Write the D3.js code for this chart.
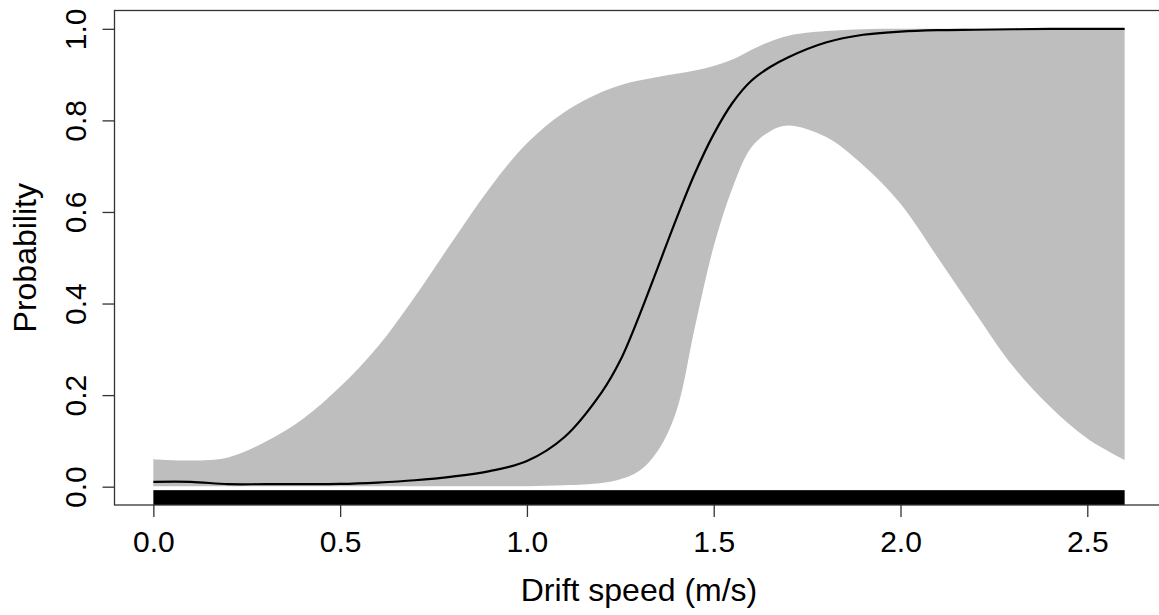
<!DOCTYPE html>
<html lang="en">
<head>
    <meta charset="UTF-8">
    <script src="https://d3js.org/d3.v7.min.js"></script>
    <style>
        body {
            margin: 0;
            background: #fff;
            overflow: hidden;
            font-family: "Liberation Sans", Arial, sans-serif;
        }
        .tick text {
            font-size: 30px;
            fill: #000;
        }
        .title {
            font-size: 32px;
            fill: #000;
            text-anchor: middle;
        }
    </style>
</head>
<body>
    <svg id="chart"></svg>

    <script>
        // drift speed grid (m/s) and fitted probability with its interval
        const speed = [0, 0.1, 0.2, 0.3, 0.4, 0.5, 0.6, 0.7, 0.8, 0.9, 1.0, 1.1, 1.2, 1.25, 1.3, 1.35,
                       1.4, 1.45, 1.5, 1.55, 1.6, 1.65, 1.7, 1.8, 1.9, 2.0, 2.1, 2.2, 2.3, 2.4, 2.5, 2.6];
        const probMean = [0.0105, 0.0105, 0.0055, 0.0055, 0.0055, 0.006, 0.009, 0.014, 0.022, 0.034, 0.056,
                          0.108, 0.206, 0.276, 0.372, 0.478, 0.585, 0.685, 0.770, 0.838, 0.886, 0.916, 0.938,
                          0.970, 0.987, 0.994, 0.997, 0.998, 0.999, 1.0, 1.0, 1.0];
        const probUpper = [0.060, 0.057, 0.064, 0.098, 0.148, 0.218, 0.305, 0.415, 0.535, 0.652, 0.750,
                           0.818, 0.862, 0.877, 0.887, 0.895, 0.902, 0.909, 0.919, 0.933, 0.954, 0.972, 0.985,
                           0.995, 0.999, 1.0, 1.0, 1.0, 1.0, 1.0, 1.0, 1.0];
        const probLower = [0.001, 0.001, 0.001, 0.001, 0.001, 0.001, 0.001, 0.001, 0.001, 0.001, 0.001,
                           0.003, 0.008, 0.016, 0.034, 0.078, 0.165, 0.350, 0.525, 0.652, 0.740, 0.776, 0.789,
                           0.764, 0.702, 0.618, 0.500, 0.380, 0.264, 0.175, 0.105, 0.058];
        const rugRange = [0, 2.6];
        const xTicks = [0, 0.5, 1.0, 1.5, 2.0, 2.5];
        const yTicks = [0, 0.2, 0.4, 0.6, 0.8, 1.0];

        const width = 1159, height = 615;
        const box = { left: 114.5, right: 1163.5, top: 10.5, bottom: 505 };

        const svg = d3.select("#chart").attr("width", width).attr("height", height);

        // R style 4% padding round the data range
        const x = d3.scaleLinear().domain([-0.104, 2.704]).range([box.left, box.right]);
        const y = d3.scaleLinear().domain([-0.04, 1.04]).range([box.bottom, box.top]);

        const rows = speed.map((s, i) => ({ s, m: probMean[i], lo: probLower[i], hi: probUpper[i] }));
        const smooth = d3.curveCatmullRom.alpha(0.5);

        svg.append("path")
            .datum(rows)
            .attr("fill", "#bebebe")
            .attr("d", d3.area()
                .x(d => x(d.s))
                .y0(d => y(d.lo))
                .y1(d => y(d.hi))
                .curve(smooth));

        svg.append("path")
            .datum(rows)
            .attr("fill", "none")
            .attr("stroke", "#000")
            .attr("stroke-width", 2.2)
            .attr("d", d3.line()
                .x(d => x(d.s))
                .y(d => y(d.m))
                .curve(smooth));

        // rug is so dense it reads as a solid bar (3% of plot height)
        const rugLen = (box.bottom - box.top) * 0.03;
        svg.append("rect")
            .attr("x", x(rugRange[0]))
            .attr("y", box.bottom - rugLen)
            .attr("width", x(rugRange[1]) - x(rugRange[0]))
            .attr("height", rugLen)
            .attr("fill", "#000");

        svg.append("rect")
            .attr("x", box.left)
            .attr("y", box.top)
            .attr("width", box.right - box.left)
            .attr("height", box.bottom - box.top)
            .attr("fill", "none")
            .attr("stroke", "#333")
            .attr("stroke-width", 1.3);

        const xAxis = svg.append("g")
            .attr("transform", `translate(0,${box.bottom})`)
            .call(d3.axisBottom(x).tickValues(xTicks).tickSize(12).tickFormat(d3.format(".1f")));
        xAxis.select(".domain").remove();
        xAxis.selectAll("line").attr("stroke", "#333").attr("stroke-width", 1.3);
        xAxis.selectAll("text").attr("y", 46.5).attr("dy", 0);

        const yAxis = svg.append("g")
            .attr("transform", `translate(${box.left},0)`)
            .call(d3.axisLeft(y).tickValues(yTicks).tickSize(12).tickFormat(d3.format(".1f")));
        yAxis.select(".domain").remove();
        yAxis.selectAll("line").attr("stroke", "#333").attr("stroke-width", 1.3);
        yAxis.selectAll("text")
            .attr("x", 0)
            .attr("y", -28.5)
            .attr("dy", 0)
            .attr("transform", "rotate(-90)")
            .attr("text-anchor", "middle");

        svg.append("text")
            .attr("class", "title")
            .attr("x", (box.left + box.right) / 2)
            .attr("y", 600.5)
            .text("Drift speed (m/s)");

        svg.append("text")
            .attr("class", "title")
            .attr("transform", `translate(36,${(box.top + box.bottom) / 2}) rotate(-90)`)
            .text("Probability");
    </script>
</body>
</html>
